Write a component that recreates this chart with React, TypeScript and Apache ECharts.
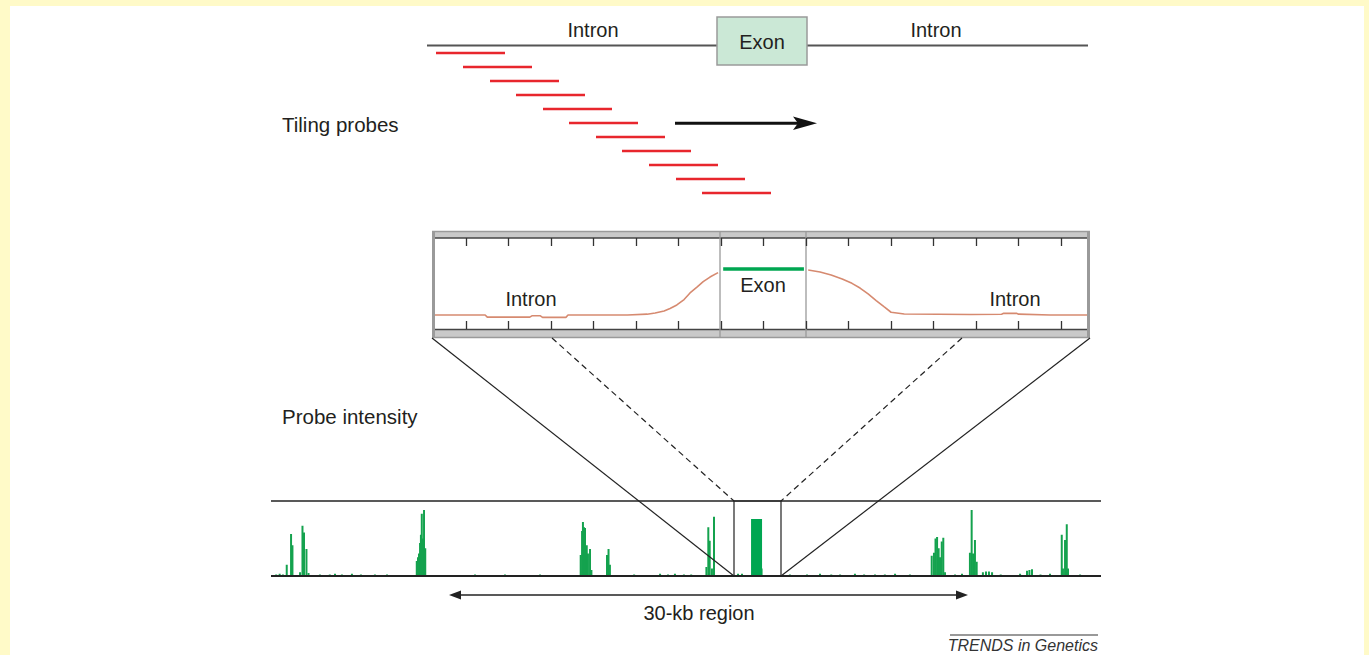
import React, { useEffect, useRef } from "react";
import * as echarts from "echarts";

// ---------- DATA ----------
// Tiling probes (gene-position units, 0 = start of gene line)
const probeStarts = [9, 36, 63, 89, 116, 142, 169, 195, 222, 249, 275];
const probeLength = 69;

// Zoomed panel: probe intensity along the exon region (tick units)
const leftIntronPos = [-0.73, 0.45, 0.5, 1.5, 1.55, 1.75, 1.8, 2.35, 2.4, 3.8, 4.26, 4.45, 4.66, 4.8, 4.96, 5.13, 5.27, 5.44, 5.58, 5.74, 5.93];
const leftIntronVal = [0.154, 0.154, 0.13, 0.13, 0.145, 0.145, 0.128, 0.128, 0.154, 0.154, 0.163, 0.176, 0.198, 0.225, 0.264, 0.324, 0.396, 0.462, 0.52, 0.571, 0.619];
const rightIntronPos = [8.05, 8.33, 8.59, 8.85, 9.08, 9.27, 9.46, 9.65, 9.84, 10.0, 10.31, 11.11, 11.86, 12.6, 12.65, 12.95, 13.0, 13.74, 14.61];
const rightIntronVal = [0.648, 0.626, 0.593, 0.549, 0.502, 0.45, 0.385, 0.313, 0.242, 0.184, 0.165, 0.162, 0.159, 0.162, 0.172, 0.172, 0.163, 0.154, 0.154];
const exonSegPos = [6.05, 7.95];
const exonSegVal = [0.659, 0.659];

// 30-kb region track (kb, relative intensity)
const peakPos = [0.91, 1.16, 1.24, 1.68, 1.82, 1.91, 2.05, 2.17,
  8.43, 8.5, 8.56, 8.62, 8.67, 8.72, 8.79, 8.85, 8.92,
  17.91, 17.99, 18.04, 18.1, 18.16, 18.26, 18.33, 18.45, 18.53,
  19.43, 19.52, 19.6,
  25.18, 25.29, 25.37, 25.5, 25.62,
  38.21, 38.34, 38.43, 38.52, 38.61, 38.69, 38.79, 38.88, 38.98,
  40.42, 40.52, 40.6, 40.71, 40.81,
  41.17, 41.35, 41.52, 41.7,
  43.32, 43.72, 43.86, 44.01,
  45.73, 45.8, 45.92, 46.02, 46.09];
const peakVal = [0.15, 0.56, 0.41, 0.05, 0.67, 0.58, 0.36, 0.04,
  0.2, 0.25, 0.3, 0.44, 0.55, 0.83, 0.5, 0.88, 0.37,
  0.28, 0.6, 0.72, 0.65, 0.64, 0.41, 0.3, 0.36, 0.08,
  0.28, 0.36, 0.15,
  0.12, 0.65, 0.47, 0.1, 0.79,
  0.27, 0.31, 0.5, 0.52, 0.37, 0.25, 0.46, 0.51, 0.05,
  0.31, 0.88, 0.3, 0.48, 0.19,
  0.05, 0.06, 0.06, 0.05,
  0.03, 0.07, 0.08, 0.09,
  0.55, 0.1, 0.48, 0.69, 0.1];
const noisePos = [0.3, 0.5, 0.69, 2.83, 3.4, 3.7, 4.1, 4.68, 5.2, 6.01, 6.71, 11.8, 13.53, 15.56, 21.0, 22.5, 22.96, 23.36, 23.88, 24.3, 27.01, 27.24, 28.37, 30.01, 31.0, 31.75, 32.4, 32.91, 33.77, 34.3, 34.93, 35.5, 36.09, 36.95, 39.56, 39.96, 42.2, 44.5, 45.05, 46.79];
const noiseVal = [0.02, 0.03, 0.02, 0.02, 0.02, 0.03, 0.02, 0.03, 0.02, 0.02, 0.02, 0.02, 0.02, 0.02, 0.02, 0.03, 0.02, 0.03, 0.02, 0.02, 0.03, 0.03, 0.1, 0.02, 0.02, 0.03, 0.02, 0.02, 0.03, 0.02, 0.02, 0.02, 0.03, 0.02, 0.02, 0.03, 0.02, 0.02, 0.03, 0.02];
const exonBarPos = [28.08];
const exonBarVal = [0.76];

const FONT = '"Liberation Sans", Arial, sans-serif';
const TXT = "#231f20";

function text(x: number, y: number, t: string, size = 20, align = "center", extra: any = {}) {
  return {
    type: "text",
    x,
    y,
    z: 20,
    style: {
      text: t,
      fill: TXT,
      font: `${size}px ${FONT}`,
      textAlign: align,
      textVerticalAlign: "middle",
      ...extra,
    },
  };
}
function line(x1: number, y1: number, x2: number, y2: number, stroke: string, lineWidth: number, z = 10, lineDash?: number[]) {
  return {
    type: "line",
    z,
    shape: { x1, y1, x2, y2 },
    style: { stroke, lineWidth, lineDash },
  };
}

export default function App() {
  const ref = useRef<HTMLDivElement>(null);
  useEffect(() => {
    if (!ref.current) return;
    const chart = echarts.init(ref.current, null, { renderer: "svg" });

    const probeData = probeStarts.map((s, i) => [s, s + probeLength, i]);
    const zip = (a: number[], b: number[]) => a.map((v, i) => [v, b[i]]);
    const trackData = zip(peakPos, peakVal).concat(zip(noisePos, noiseVal));

    const hiddenAxis = (extra: any) => ({
      type: "value",
      show: false,
      ...extra,
    });
    const tickAxis = (gridIndex: number, inside: boolean) => ({
      type: "value",
      gridIndex,
      position: "bottom",
      min: 0,
      max: 14,
      interval: 1,
      z: 20,
      axisLine: { show: false },
      axisTick: { show: true, inside, length: 8, lineStyle: { color: "#333", width: 1.3 } },
      axisLabel: { show: false },
      splitLine: { show: false },
    });

    const graphic: any[] = [
      { type: "rect", z: -100, shape: { x: 10, y: 6, width: 1354, height: 649 }, style: { fill: "#ffffff" } },
      // gene schematic
      line(427, 45.5, 1088, 45.5, "#555", 2, 5),
      { type: "rect", z: 6, shape: { x: 717, y: 17, width: 90, height: 48 }, style: { fill: "#cbe8d6", stroke: "#9a9a9a", lineWidth: 1.5 } },
      text(762, 42, "Exon"),
      text(593, 30, "Intron"),
      text(936, 30, "Intron"),
      text(282, 124, "Tiling probes", 20.5, "left"),
      // direction arrow
      line(675, 123.3, 802, 123.3, "#111", 3),
      { type: "polygon", z: 10, shape: { points: [[817, 123.3], [793, 116.5], [798, 123.3], [793, 130]] }, style: { fill: "#111" } },
      // zoom panel frame
      { type: "rect", z: 5, shape: { x: 432, y: 231, width: 658, height: 7 }, style: { fill: "#c9c9c9" } },
      { type: "rect", z: 5, shape: { x: 432, y: 330, width: 658, height: 7 }, style: { fill: "#c9c9c9" } },
      line(432, 231.5, 1090, 231.5, "#9a9a9a", 1.5, 6),
      line(432, 337.5, 1090, 337.5, "#9a9a9a", 1.5, 6),
      line(433, 238, 1089, 238, "#444", 1.5, 6),
      line(433, 329.5, 1089, 329.5, "#444", 1.5, 6),
      line(433.5, 231, 433.5, 338, "#9a9a9a", 3, 6),
      line(1088.5, 231, 1088.5, 338, "#9a9a9a", 3, 6),
      line(720, 231, 720, 338, "#9a9a9a", 1.3, 6),
      line(806, 231, 806, 338, "#9a9a9a", 1.3, 6),
      text(531, 299, "Intron"),
      text(763, 285, "Exon"),
      text(1015, 299, "Intron"),
      text(282, 416, "Probe intensity", 20.5, "left"),
      // connectors
      line(432, 338, 734, 576, "#222", 1.2, 12),
      line(1090, 338, 781, 576, "#222", 1.2, 12),
      line(552, 338, 734, 501, "#222", 1.2, 12, [6, 4]),
      line(962, 338, 781, 501, "#222", 1.2, 12, [6, 4]),
      // track frame
      line(271, 501, 1101, 501, "#222", 1.5, 8),
      line(271, 576, 1101, 576, "#222", 2, 8),
      { type: "rect", z: 12, shape: { x: 734, y: 501, width: 47, height: 75 }, style: { fill: "none", stroke: "#222", lineWidth: 1.2 } },
      // 30-kb arrow
      line(452, 595, 965, 595, "#222", 1.3, 10),
      { type: "polygon", z: 10, shape: { points: [[449, 595], [461, 590.5], [461, 599.5]] }, style: { fill: "#222" } },
      { type: "polygon", z: 10, shape: { points: [[968, 595], [956, 590.5], [956, 599.5]] }, style: { fill: "#222" } },
      text(699, 613, "30-kb region"),
      line(950, 635, 1098, 635, "#777", 1.5, 10),
      text(1098, 645, "TRENDS in Genetics", 16, "right", { font: `italic 16px ${FONT}`, fill: "#333" }),
    ];

    chart.setOption({
      animation: false,
      backgroundColor: "#fffac8",
      grid: [
        { left: 427, top: 53, width: 661, height: 140 },
        { left: 466, top: 238, width: 595, height: 91 },
        { left: 271, top: 501, width: 830, height: 75 },
        { left: 271, top: 501, width: 830, height: 75 },
        { left: 435, top: 238, width: 652, height: 91 },
        { left: 466, top: 228, width: 595, height: 10 },
      ],
      xAxis: [
        hiddenAxis({ gridIndex: 0, min: 0, max: 661 }),
        tickAxis(1, true),
        tickAxis(5, false),
        hiddenAxis({ gridIndex: 2, min: 0, max: 48 }),
        hiddenAxis({ gridIndex: 3, min: 0, max: 48 }),
        hiddenAxis({ gridIndex: 4, min: -0.73, max: 14.61 }),
      ],
      yAxis: [
        hiddenAxis({ gridIndex: 0, min: 0, max: 10, inverse: true }),
        hiddenAxis({ gridIndex: 1, min: 0, max: 1 }),
        hiddenAxis({ gridIndex: 2, min: 0, max: 1 }),
        hiddenAxis({ gridIndex: 3, min: 0, max: 1 }),
        hiddenAxis({ gridIndex: 4, min: 0, max: 1 }),
        hiddenAxis({ gridIndex: 5, min: 0, max: 1 }),
      ],
      graphic,
      series: [
        {
          type: "custom",
          xAxisIndex: 0,
          yAxisIndex: 0,
          data: probeData,
          encode: { x: [0, 1], y: 2 },
          renderItem: (params: any, api: any) => {
            const s = api.coord([api.value(0), api.value(2)]);
            const e = api.coord([api.value(1), api.value(2)]);
            return {
              type: "line",
              shape: { x1: s[0], y1: s[1], x2: e[0], y2: e[1] },
              style: { stroke: "#e8262d", lineWidth: 2.5 },
            };
          },
        },
        {
          type: "line",
          xAxisIndex: 5,
          yAxisIndex: 4,
          symbol: "none",
          z: 15,
          data: zip(leftIntronPos, leftIntronVal),
          lineStyle: { color: "#d68a70", width: 1.6 },
        },
        {
          type: "line",
          xAxisIndex: 5,
          yAxisIndex: 4,
          symbol: "none",
          z: 15,
          data: zip(rightIntronPos, rightIntronVal),
          lineStyle: { color: "#d68a70", width: 1.6 },
        },
        {
          type: "line",
          xAxisIndex: 5,
          yAxisIndex: 4,
          symbol: "none",
          z: 15,
          data: zip(exonSegPos, exonSegVal),
          lineStyle: { color: "#00a651", width: 3.5 },
        },
        {
          type: "bar",
          xAxisIndex: 3,
          yAxisIndex: 2,
          barWidth: 2,
          data: trackData,
          itemStyle: { color: "#14a24e" },
        },
        {
          type: "bar",
          xAxisIndex: 4,
          yAxisIndex: 3,
          barWidth: 11,
          data: zip(exonBarPos, exonBarVal),
          itemStyle: { color: "#00a651" },
        },
      ],
    });
    return () => chart.dispose();
  }, []);
  return <div ref={ref} style={{ position: "absolute", left: 0, top: 0, width: 1369, height: 655 }} />;
}
